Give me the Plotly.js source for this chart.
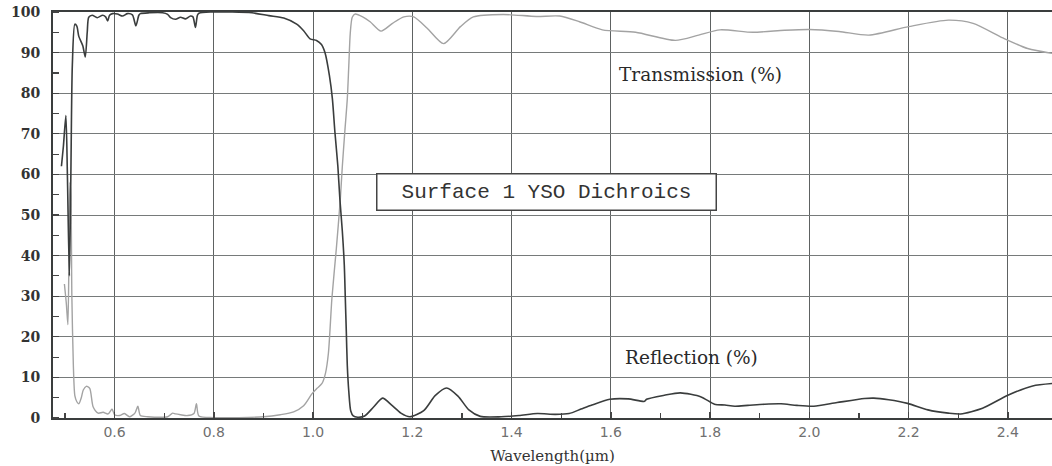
<!DOCTYPE html>
<html>
<head>
<meta charset="utf-8">
<script src="https://cdn.plot.ly/plotly-3.0.1.min.js"></script>
<style>html,body{margin:0;padding:0;background:#fff;}#chart{width:1052px;height:466px;}</style>
</head>
<body>
<div id="chart"></div>
<script>
// Reflection (%) — dark curve
const reflWavelength = [0.493,0.497,0.502,0.505,0.509,0.512,0.515,0.520,0.524,0.528,0.536,0.541,0.545,0.548,0.555,0.565,0.576,0.582,0.586,0.590,0.596,0.606,0.616,0.626,0.636,0.643,0.649,0.652,0.670,0.697,0.707,0.713,0.723,0.733,0.743,0.753,0.758,0.763,0.767,0.770,0.797,0.837,0.877,0.911,0.941,0.967,0.981,0.994,1.007,1.017,1.024,1.033,1.039,1.044,1.050,1.054,1.059,1.063,1.065,1.067,1.069,1.072,1.076,1.081,1.090,1.104,1.122,1.140,1.159,1.177,1.195,1.223,1.246,1.269,1.292,1.314,1.337,1.379,1.415,1.452,1.488,1.516,1.540,1.562,1.598,1.635,1.668,1.672,1.708,1.740,1.782,1.809,1.830,1.850,1.876,1.910,1.943,1.975,2.009,2.056,2.111,2.130,2.160,2.198,2.239,2.280,2.305,2.349,2.400,2.450,2.489];
const reflection = [62,67,74.5,60,35,60,87,97,96.5,94,91.7,88.9,95,98.7,99.2,98.6,99.2,98.8,97.8,99.2,99.6,99.5,99,99.6,99.3,96.6,99.2,99.6,99.8,99.8,99.4,98.6,98.2,98.7,98.3,99,98.8,96.2,99.2,99.7,100,100,99.8,99.1,98.5,97,95.4,93.4,93,92,90,84.3,78.6,70.5,62,54,46,37.6,29.5,21.4,13,6.6,1.7,0.5,0.2,0.5,2.7,4.9,3.1,1.2,0.3,1.8,5.5,7.4,5.4,2,0.4,0.3,0.6,1.1,0.9,1.1,2.2,3.2,4.6,4.7,4.1,4.6,5.6,6.2,5.2,3.4,3.2,2.9,3.1,3.4,3.5,3.1,2.9,3.8,4.8,4.9,4.5,3.6,2.0,1.2,1.0,2.4,5.6,7.9,8.5];

// Transmission (%) — light curve
const transWavelength = [0.499,0.503,0.506,0.508,0.510,0.512,0.514,0.517,0.520,0.524,0.528,0.533,0.537,0.543,0.550,0.557,0.567,0.577,0.587,0.595,0.600,0.610,0.620,0.630,0.641,0.647,0.652,0.667,0.680,0.707,0.717,0.723,0.733,0.747,0.760,0.765,0.770,0.800,0.850,0.900,0.934,0.961,0.981,0.998,1.008,1.018,1.025,1.031,1.038,1.047,1.055,1.059,1.064,1.069,1.072,1.075,1.079,1.085,1.100,1.115,1.137,1.160,1.183,1.203,1.230,1.263,1.297,1.323,1.383,1.450,1.497,1.537,1.583,1.650,1.730,1.777,1.820,1.886,1.950,2.000,2.060,2.120,2.200,2.280,2.330,2.390,2.440,2.489];
const transmission = [33,28,23,38,58,55,30,13,5.5,4,3.5,5,6.9,7.8,7.3,2.7,1.2,1.4,1.0,2.2,0.8,0.6,1.1,0.3,1.2,2.9,0.6,0.3,0.2,0.3,1.2,1.0,0.8,0.6,1.1,3.5,0.5,0.1,0.1,0.3,0.8,1.5,3,6,7.3,8.5,11,16,29.5,41.8,54,62,70.5,78.6,86.7,94.8,98.7,99.5,98.8,97.6,95.3,97.2,98.8,98.8,96,92.2,96.4,98.8,99.4,98.9,99,97.6,95.6,95,93,94.3,95.6,95,95.5,95.7,95.2,94.3,96.4,98,97.2,93.6,91,89.8];

const xTickValues = [0.6,0.8,1.0,1.2,1.4,1.6,1.8,2.0,2.2,2.4];
const xTickLabels = ["0.6","0.8","1.0","1.2","1.4","1.6","1.8","2.0","2.2","2.4"];
const yTickValues = [0,10,20,30,40,50,60,70,80,90,100];
const yTickLabels = ["0","10","20","30","40","50","60","70","80","90","100"];

const traces = [
  {x: transWavelength, y: transmission, mode: 'lines', name: 'Transmission (%)',
   line: {color: '#a3a3a3', width: 1.4, shape: 'spline', smoothing: 0.7}, hoverinfo: 'x+y'},
  {x: reflWavelength, y: reflection, mode: 'lines', name: 'Reflection (%)',
   line: {color: '#3a3d3d', width: 1.6, shape: 'spline', smoothing: 0.7}, hoverinfo: 'x+y'}
];

const layout = {
  width: 1052, height: 466,
  margin: {l: 53, r: 0, t: 12, b: 48},
  paper_bgcolor: '#ffffff', plot_bgcolor: '#ffffff',
  showlegend: false,
  xaxis: {
    range: [0.476, 2.489],
    tickvals: xTickValues, ticktext: xTickLabels,
    ticks: 'inside', ticklen: 6, tickwidth: 1.5, tickcolor: '#444',
    showgrid: true, gridcolor: '#5e6262', gridwidth: 1,
    showline: true, linecolor: '#3a3d3d', linewidth: 2, mirror: true,
    zeroline: false,
    minor: {dtick: 0.1, tick0: 0.5, ticks: 'inside', ticklen: 5, tickcolor: '#444', tickwidth: 1.2, showgrid: false},
    tickfont: {family: 'DejaVu Sans', size: 14, color: '#707070'},
    title: {text: 'Wavelength(µm)', font: {family: 'DejaVu Serif', size: 15, color: '#333'}, standoff: 12}
  },
  yaxis: {
    range: [0, 100],
    tickvals: yTickValues, ticktext: yTickLabels,
    ticks: '', showgrid: true, gridcolor: '#767a7a', gridwidth: 1,
    showline: true, linecolor: '#3a3d3d', linewidth: 2, mirror: false,
    zeroline: false,
    minor: {dtick: 5, tick0: 5, ticks: 'inside', ticklen: 6, tickcolor: '#444', tickwidth: 1.2, showgrid: false},
    tickfont: {family: 'DejaVu Serif', size: 14, color: '#333', weight: 'bold'},
    ticklabelstandoff: 8
  },
  annotations: [
    {x: 1.780, y: 84.5, xref: 'x', yref: 'y', text: 'Transmission (%)', showarrow: false,
     font: {family: 'DejaVu Serif', size: 18.5, color: '#2a2a2a'}},
    {x: 1.762, y: 15.0, xref: 'x', yref: 'y', text: 'Reflection (%)', showarrow: false,
     font: {family: 'DejaVu Serif', size: 18.5, color: '#2a2a2a'}},
    {x: 1.470, y: 55.7, xref: 'x', yref: 'y', text: 'Surface 1 YSO Dichroics', showarrow: false,
     font: {family: 'Liberation Mono', size: 21, color: '#333'},
     bgcolor: '#ffffff', bordercolor: '#444', borderwidth: 1.5, borderpad: 3,
     width: 332, height: 29}
  ]
};

Plotly.newPlot('chart', traces, layout, {staticPlot: true, displayModeBar: false});
</script>
</body>
</html>
